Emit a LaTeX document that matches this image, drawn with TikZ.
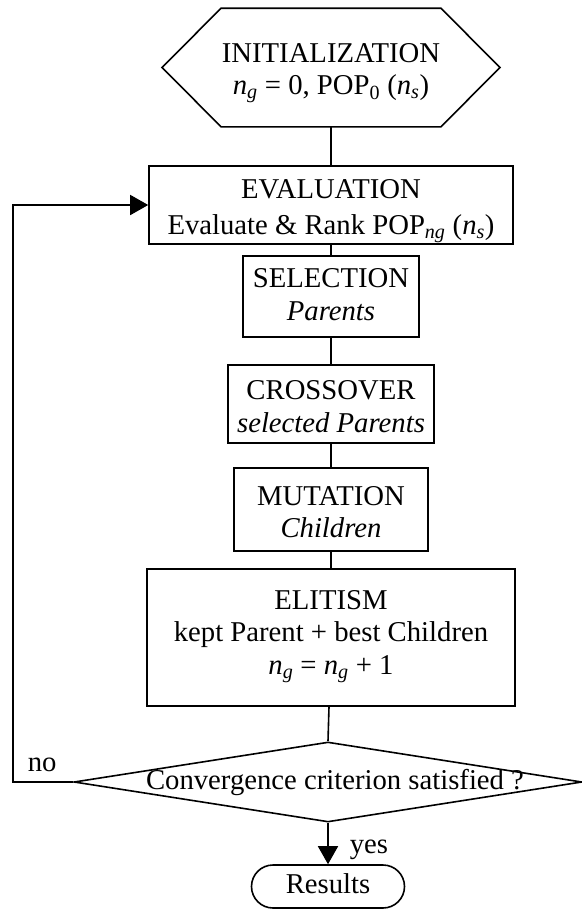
\documentclass[tikz,border=0pt]{standalone}
\usepackage{fontspec}
\setmainfont{Liberation Serif}
\usetikzlibrary{shapes.geometric,shapes.misc,arrows.meta}

% italic variables with italic subscripts
\newcommand\ngen{\textit{n}\textsubscript{\textit{g}}}
\newcommand\nsz{\textit{n}\textsubscript{\textit{s}}}
% centred lines whose first baseline sits #1 bp above the node centre
\newcommand\boxtext[2]{\raisebox{#1bp}[0pt][0pt]{\begin{tabular}[t]{@{}c@{}}#2\end{tabular}}}

\begin{document}
\begin{tikzpicture}[x=1bp, y=-1bp, line width=1.6bp,
  every node/.style={font=\fontsize{28.8}{33}\selectfont, inner sep=0pt},
  stepbox/.style 2 args={draw, rectangle, minimum width=#1, minimum height=#2},
  decision/.style 2 args={draw, diamond, aspect=6.35, minimum width=#1, minimum height=#2},
  terminal/.style 2 args={draw, rounded rectangle, minimum width=#1, minimum height=#2},
  arr/.style={-{Triangle[length=18bp,width=20bp]}}]

\useasboundingbox (0,0) rectangle (582,909);

% start block (hexagon drawn around its core)
\node[minimum width=172bp, minimum height=117bp] (init) at (331,67.5)
  {\boxtext{5.5}{INITIALIZATION\\\ngen{} = 0, POP\textsubscript{0} (\nsz)}};
\draw (init.north west) -- (init.north east) -- ([xshift=59bp]init.east)
  -- (init.south east) -- (init.south west) -- ([xshift=-59bp]init.west) -- cycle;

% process steps
\node[stepbox={364bp}{78bp}] (eval) at (331,205)
  {\boxtext{6.5}{EVALUATION\\[3bp]Evaluate \& Rank POP\textsubscript{\textit{ng}} (\nsz)}};
\node[stepbox={176bp}{81bp}] (sel) at (331,296.5)
  {\boxtext{9.2}{SELECTION\\\textit{Parents}}};
\node[stepbox={206bp}{78bp}] (cross) at (331,404)
  {\boxtext{4.7}{CROSSOVER\\\textit{selected Parents}}};
\node[stepbox={194bp}{83bp}] (mut) at (331,509.5)
  {\boxtext{4.5}{MUTATION\\\textit{Children}}};
\node[stepbox={368bp}{137bp}] (elit) at (331,637.5)
  {\boxtext{28.5}{ELITISM\\kept Parent + best Children\\\ngen{} = \ngen{} + 1}};

% test and end
\node[decision={508bp}{80bp}] (conv) at (328,782)
  {\boxtext{-7.5}{\kern14bp Convergence criterion satisfied ?}};
\node[terminal={153bp}{43bp}] (res) at (328,886.5)
  {\boxtext{-6.5}{Results}};

% branch labels
\node[anchor=base west] (nolab) at (27,771) {no};
\node[anchor=base west] (yeslab) at (349,853) {yes};

% flow
\draw (init) -- (eval);
\draw (eval) -- (sel);
\draw (sel) -- (cross);
\draw (cross) -- (mut);
\draw (mut) -- (elit);
\draw (elit) -- (conv.north);
\draw[arr] (conv.south) -- (res.north);
\coordinate (turn) at (13,0);
\draw[arr] (conv.west) -- (conv.west -| turn) |- (eval.west);
\end{tikzpicture}
\end{document}
